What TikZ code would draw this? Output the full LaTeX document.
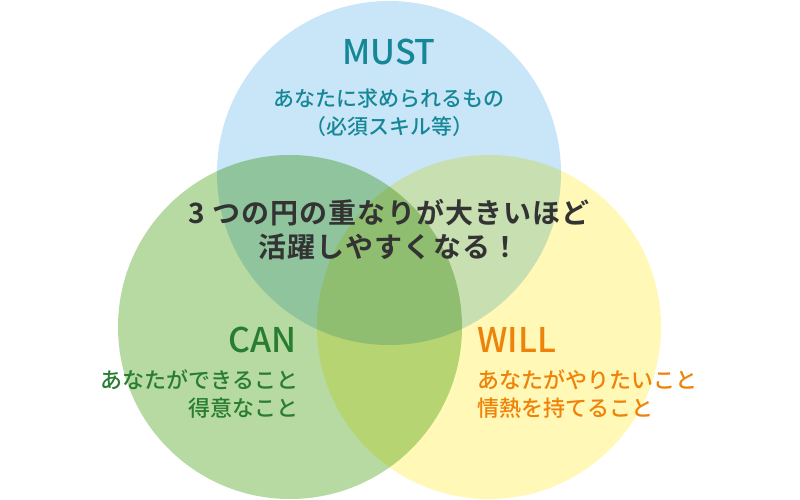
\documentclass[tikz,border=0pt]{standalone}
\usepackage{fontspec}
\setmainfont{Noto Sans CJK JP Medium}
\newfontfamily\jpb[LetterSpace=4]{Noto Sans CJK JP Bold}
\newfontfamily\jpm{Noto Sans CJK JP Medium}
\begin{document}
\begin{tikzpicture}[x=1pt,y=-1pt,
  title/.style={font=\jpm\fontsize{34}{34}\selectfont},
  sub/.style={font=\jpm\fontsize{21}{28}\selectfont},
  sub2/.style={font=\jpm\fontsize{22}{28}\selectfont},
  center/.style={font=\jpb\fontsize{28}{34}\selectfont, text=black!80, align=center}]
\useasboundingbox (0,0) rectangle (800,500);
\definecolor{cblue}{RGB}{200,230,248}
\definecolor{cgreen}{RGB}{183,218,162}
\definecolor{cyellow}{RGB}{255,248,182}
\definecolor{tteal}{RGB}{22,135,150}
\definecolor{tgreen}{RGB}{40,125,50}
\definecolor{torange}{RGB}{238,130,10}
\begin{scope}[blend group=multiply]
\fill[cblue] (389,173) circle (172);
\fill[cgreen] (290,327) circle (172);
\fill[cyellow] (489,327) circle (172);
\end{scope}
\node[title,text=tteal] (m) at (389,52) {MUST};
\node[sub,text=tteal,align=center] (ms) at (389,113) {あなたに求められるもの\\（必須スキル等）};
\node[center] (c) at (389,230) {3 つの円の重なりが大きいほど\\活躍しやすくなる！};
\node[title,text=tgreen,anchor=east] (cn) at (300,340) {CAN};
\node[sub2,text=tgreen,align=right,anchor=east] (cs) at (302,394) {あなたができること\\得意なこと};
\node[title,text=torange,anchor=west] (w) at (474,340) {WILL};
\node[sub2,text=torange,align=left,anchor=west] (ws) at (474,394) {あなたがやりたいこと\\情熱を持てること};
\end{tikzpicture}
\end{document}
